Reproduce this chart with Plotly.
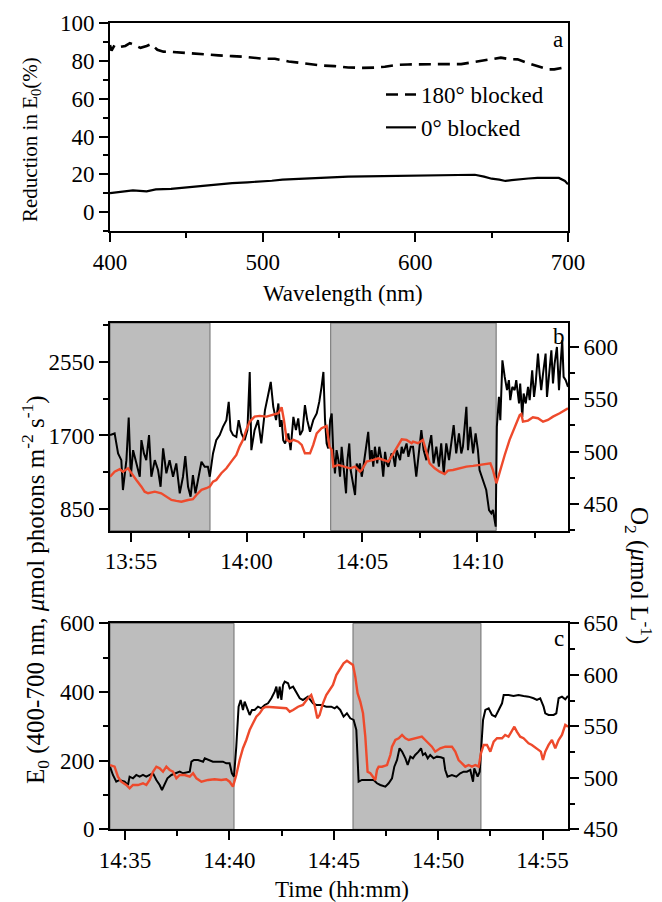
import datetime as dt
import plotly.graph_objects as go

FONT = "Liberation Serif"
RED = "#ee4a2c"
GRAY = "#bdbdbd"

# ---------------- Panel a: reduction in E0 vs wavelength ----------------
wl_180 = [400, 401, 403, 407, 410, 413, 416, 420, 424, 427, 431, 435, 440, 448, 456, 462, 471, 480,
          488, 501, 508, 517, 523, 532, 538, 547, 556, 565, 573, 580, 587, 595, 604, 613, 621, 630,
          639, 645, 652, 656, 661, 667, 674, 680, 687, 691, 696, 700]
red_180 = [88.5, 85.5, 88.5, 87.5, 88.0, 89.5, 88.5, 87.0, 88.0, 89.0, 86.0, 85.0, 84.9, 84.4, 83.7,
           83.2, 83.0, 82.6, 82.3, 81.2, 81.2, 79.8, 79.1, 78.2, 77.7, 77.3, 76.6, 76.4, 76.5, 77.0,
           77.9, 78.2, 78.4, 78.4, 78.4, 78.4, 79.6, 80.5, 81.1, 81.8, 81.1, 80.9, 78.8, 77.3, 75.6,
           75.6, 76.4, 76.4]
wl_0 = [400, 408, 415, 424, 430, 440, 448, 455, 463, 472, 480, 490, 498, 506, 513, 524, 534, 544,
        556, 567, 578, 589, 600, 611, 622, 633, 639, 645, 650, 655, 659, 663, 667, 674, 680, 687,
        694, 698, 700]
red_0 = [10.1, 10.8, 11.5, 11.0, 12.0, 12.3, 12.9, 13.3, 14.2, 14.6, 15.4, 15.8, 16.1, 16.6, 17.2,
         17.7, 18.2, 18.6, 18.8, 18.9, 19.0, 19.1, 19.2, 19.3, 19.4, 19.5, 19.8, 18.8, 17.7, 17.2,
         16.5, 16.9, 17.3, 17.8, 18.1, 18.1, 18.1, 16.5, 14.7]

# ---------------- Panel b: minutes after 13:55 ----------------
b_e0_min = [-0.91, -0.71, -0.56, -0.42, -0.35, -0.20, -0.10, -0.01, 0.09, 0.23, 0.38, 0.45, 0.56,
            0.66, 0.78, 0.88, 1.03, 1.17, 1.28, 1.39, 1.53, 1.67, 1.82, 1.96, 2.11, 2.25, 2.35,
            2.47, 2.58, 2.68, 2.79, 2.90, 3.05, 3.19, 3.33, 3.41, 3.55, 3.69, 3.84, 3.98, 4.13,
            4.23, 4.31, 4.42, 4.56, 4.66, 4.78, 4.92, 5.04, 5.14, 5.21, 5.35, 5.50, 5.64, 5.80,
            5.95, 6.05, 6.16, 6.28, 6.38, 6.45, 6.52, 6.59, 6.67, 6.81, 6.91, 7.03, 7.14, 7.24,
            7.32, 7.43, 7.53, 7.63, 7.75, 7.89, 8.04, 8.15, 8.25, 8.33, 8.40, 8.47, 8.54, 8.62,
            8.69, 8.76, 8.83, 8.90, 8.98, 9.05, 9.12, 9.19, 9.31, 9.37, 9.45, 9.51, 9.60, 9.70,
            9.77, 9.84, 9.91, 9.99, 10.06, 10.17, 10.27, 10.35, 10.42, 10.49, 10.56, 10.66, 10.75,
            10.85, 10.92, 11.00, 11.07, 11.14, 11.28, 11.36, 11.43, 11.50, 11.65, 11.72, 11.79,
            11.93, 12.01, 12.11, 12.21, 12.35, 12.47, 12.57, 12.67, 12.79, 12.90, 13.00, 13.10,
            13.22, 13.33, 13.43, 13.54, 13.65, 13.77, 13.87, 13.97, 14.08, 14.20, 14.30, 14.37,
            14.52, 14.59, 14.69, 14.81, 14.92, 15.02, 15.09, 15.24, 15.38, 15.50, 15.60, 15.67,
            15.74, 15.79, 15.84, 15.93, 15.99, 16.08, 16.18, 16.28, 16.36, 16.42, 16.51, 16.61,
            16.68, 16.80, 16.85, 16.94, 17.00, 17.09, 17.19, 17.26, 17.37, 17.45, 17.52, 17.62,
            17.69, 17.76, 17.84, 17.95, 18.01, 18.10, 18.20, 18.27, 18.34, 18.44, 18.53, 18.59,
            18.67, 18.73, 18.82, 18.92]
b_e0_val = [1704, 1723, 1493, 1416, 1072, 1416, 1907, 1225, 1531, 1378, 1225, 1646, 1493, 1416,
            1704, 1225, 1416, 1302, 1110, 1551, 1264, 1416, 1225, 1378, 1034, 1225, 1462, 1110,
            995, 1244, 1034, 1187, 1397, 1339, 1339, 1225, 1493, 1646, 1704, 1799, 1876, 2086,
            1761, 1704, 1684, 1876, 1723, 1646, 1761, 2431, 1531, 1761, 1876, 1608, 1991, 2183,
            2316, 2029, 1876, 2068, 1799, 1876, 1646, 1608, 1723, 1531, 1914, 1761, 1896, 1704,
            1761, 2048, 1876, 1742, 1876, 1953, 2086, 2259, 2431, 1876, 1608, 1551, 1876, 1953,
            1493, 1264, 1531, 1416, 1225, 1570, 1340, 1034, 1416, 1608, 1302, 1149, 1014, 1378,
            1302, 1378, 1225, 1340, 1570, 1742, 1416, 1531, 1340, 1570, 1378, 1570, 1416, 1225,
            1512, 1378, 1340, 1493, 1454, 1340, 1531, 1416, 1570, 1493, 1608, 1454, 1570, 1570,
            1225, 1493, 1761, 1531, 1416, 1570, 1704, 1378, 1570, 1340, 1608, 1264, 1608, 1416,
            1646, 1819, 1493, 1723, 1493, 1570, 2029, 1531, 1799, 1493, 1723, 1531, 1302, 1187,
            1072, 842, 804, 842, 689, 650, 1799, 2144, 1876, 2565, 2374, 2221, 2336, 2106, 2259,
            2221, 2336, 2068, 2298, 1914, 2183, 2068, 2259, 2106, 2450, 2144, 2298, 2642, 2413,
            2221, 2413, 2642, 2144, 2450, 2680, 2298, 2528, 2718, 2221, 2489, 2795, 2374, 2336,
            2259]

b_o2_min = [-0.91, -0.71, -0.49, -0.35, -0.13, 0.01, 0.23, 0.45, 0.59, 0.74, 1.03, 1.31, 1.53,
            1.75, 1.96, 2.18, 2.47, 2.68, 2.83, 3.05, 3.26, 3.41, 3.55, 3.69, 3.91, 4.13, 4.34,
            4.56, 4.70, 4.85, 4.99, 5.14, 5.35, 5.57, 5.87, 6.16, 6.38, 6.52, 6.62, 6.74, 6.88,
            7.03, 7.24, 7.39, 7.53, 7.75, 7.89, 8.04, 8.25, 8.47, 8.59, 8.69, 8.76, 8.98, 9.19,
            9.48, 9.70, 9.91, 9.99, 10.20, 10.49, 10.71, 10.92, 11.14, 11.36, 11.57, 11.72, 11.93,
            12.15, 12.21, 12.42, 12.64, 12.79, 12.93, 13.15, 13.36, 13.58, 13.72, 13.94, 14.23,
            14.52, 14.81, 15.09, 15.38, 15.56, 15.67, 15.82, 15.93, 16.03, 16.18, 16.39, 16.54,
            16.68, 16.83, 16.90, 16.97, 17.19, 17.40, 17.62, 17.84, 18.05, 18.27, 18.56, 18.77,
            18.92]
b_o2_val = [476.0, 480.8, 483.1, 480.8, 484.0, 479.3, 472.9, 466.5, 461.7, 460.2, 461.7, 460.2,
            457.0, 453.8, 452.9, 452.2, 453.8, 454.5, 458.6, 463.4, 465.0, 466.5, 471.3, 472.9,
            479.3, 484.0, 490.4, 496.7, 504.7, 511.1, 520.6, 528.5, 533.3, 534.0, 533.3, 534.9,
            536.5, 542.2, 530.1, 511.1, 509.4, 511.1, 509.4, 506.3, 498.3, 498.3, 506.3, 517.4,
            522.2, 524.4, 504.7, 501.5, 485.6, 487.2, 485.6, 484.0, 485.6, 480.8, 482.4, 490.4,
            492.0, 493.6, 492.0, 490.4, 498.3, 506.3, 511.7, 511.1, 507.9, 509.4, 507.9, 511.1,
            498.3, 488.8, 484.0, 480.8, 478.6, 481.8, 482.4, 484.0, 485.6, 486.3, 487.2, 487.9,
            488.8, 482.4, 469.7, 477.7, 485.6, 496.7, 511.1, 519.0, 527.0, 534.9, 535.9, 528.5,
            529.5, 532.7, 531.8, 528.5, 530.1, 533.3, 536.5, 539.7, 541.3]

b_dark = [(-0.91, 3.42), (8.645, 15.81)]

# ---------------- Panel c: minutes after 14:35 ----------------
c_e0_min = [-0.72, -0.58, -0.42, -0.26, -0.02, 0.14, 0.22, 0.38, 0.54, 0.70, 0.86, 1.02, 1.18,
            1.34, 1.50, 1.66, 1.77, 1.90, 2.03, 2.22, 2.46, 2.62, 2.78, 2.94, 3.10, 3.18, 3.30,
            3.50, 3.74, 3.82, 3.98, 4.21, 4.45, 4.69, 4.85, 5.01, 5.12, 5.22, 5.33, 5.44, 5.54,
            5.65, 5.73, 5.86, 5.97, 6.08, 6.21, 6.37, 6.53, 6.69, 6.85, 7.01, 7.17, 7.25, 7.33,
            7.41, 7.49, 7.57, 7.65, 7.81, 7.89, 8.05, 8.21, 8.37, 8.52, 8.76, 9.00, 9.16, 9.40,
            9.64, 9.88, 10.04, 10.15, 10.31, 10.47, 10.63, 10.79, 10.95, 11.08, 11.14, 11.19,
            11.35, 11.59, 11.75, 11.91, 12.07, 12.23, 12.47, 12.63, 12.79, 12.90, 13.03, 13.15,
            13.27, 13.43, 13.54, 13.67, 13.79, 13.90, 14.06, 14.18, 14.27, 14.38, 14.50, 14.62,
            14.78, 14.94, 15.13, 15.26, 15.34, 15.45, 15.66, 15.87, 16.06, 16.22, 16.38, 16.54,
            16.67, 16.73, 16.83, 16.89, 16.99, 17.05, 17.15, 17.26, 17.42, 17.58, 17.74, 17.90,
            18.06, 18.14, 18.37, 18.61, 18.85, 19.09, 19.33, 19.57, 19.73, 19.89, 20.05, 20.13,
            20.29, 20.53, 20.66, 20.77, 20.93, 21.09, 21.22]
c_e0_val = [182.4, 158.2, 138.8, 143.7, 138.8, 129.1, 153.3, 148.5, 158.2, 153.3, 158.2, 153.3,
            158.2, 163.1, 143.7, 129.1, 114.5, 134.0, 148.5, 158.2, 163.1, 167.9, 163.1, 165.0,
            167.9, 197.0, 201.9, 201.9, 197.0, 206.8, 201.9, 197.0, 197.0, 197.0, 192.3, 192.3,
            163.1, 153.3, 240.7, 357.2, 376.6, 347.6, 371.8, 352.4, 333.0, 347.6, 347.6, 357.2,
            352.4, 362.1, 367.0, 381.6, 400.9, 415.5, 381.6, 415.5, 376.6, 420.4, 430.1, 425.3,
            410.7, 415.5, 396.2, 381.6, 376.6, 386.4, 367.0, 362.1, 362.1, 357.2, 357.2, 352.4,
            357.2, 347.6, 328.1, 337.9, 323.3, 318.4, 289.3, 201.9, 138.8, 143.7, 143.7, 145.6,
            143.7, 134.0, 129.1, 124.2, 134.0, 148.5, 182.4, 201.9, 236.0, 226.2, 206.8, 187.3,
            211.6, 206.8, 216.5, 226.2, 236.0, 216.5, 221.3, 206.8, 216.5, 206.8, 211.6, 209.7,
            206.8, 172.8, 153.3, 158.2, 153.3, 163.1, 167.9, 167.9, 172.8, 138.8, 177.6, 163.1,
            153.3, 167.9, 221.3, 318.4, 347.6, 352.4, 333.0, 328.1, 347.6, 367.0, 391.3, 391.3,
            388.4, 391.3, 388.4, 386.4, 381.6, 376.6, 381.6, 357.2, 337.9, 333.0, 333.0, 337.9,
            381.6, 386.4, 378.6, 388.4]

c_o2_min = [-0.72, -0.50, -0.34, -0.18, 0.06, 0.22, 0.38, 0.62, 0.86, 1.02, 1.18, 1.34, 1.50,
            1.66, 1.82, 1.98, 2.14, 2.30, 2.46, 2.62, 2.86, 3.10, 3.26, 3.42, 3.66, 3.98, 4.29,
            4.61, 4.85, 5.01, 5.17, 5.33, 5.49, 5.65, 5.81, 5.97, 6.13, 6.29, 6.45, 6.61, 6.77,
            7.01, 7.25, 7.49, 7.73, 7.89, 8.05, 8.29, 8.52, 8.76, 8.92, 9.08, 9.21, 9.32, 9.48,
            9.64, 9.80, 9.96, 10.12, 10.31, 10.47, 10.63, 10.79, 10.92, 11.03, 11.14, 11.27,
            11.40, 11.51, 11.62, 11.75, 11.88, 11.99, 12.07, 12.15, 12.31, 12.55, 12.71, 12.79,
            12.95, 13.11, 13.27, 13.43, 13.59, 13.75, 13.98, 14.22, 14.38, 14.54, 14.70, 14.86,
            15.10, 15.34, 15.66, 15.82, 15.98, 16.14, 16.30, 16.46, 16.62, 16.78, 16.94, 17.05,
            17.18, 17.34, 17.50, 17.66, 17.82, 18.06, 18.21, 18.37, 18.53, 18.65, 18.77, 18.93,
            19.09, 19.33, 19.49, 19.73, 19.92, 20.02, 20.13, 20.29, 20.45, 20.61, 20.77, 20.93,
            21.09, 21.22]
c_o2_val = [512.4, 510.8, 501.1, 496.2, 493.0, 489.8, 493.0, 493.0, 494.7, 493.0, 497.9, 505.9,
            510.8, 509.2, 505.9, 510.8, 507.6, 505.9, 499.5, 502.7, 502.7, 501.1, 504.4, 499.5,
            496.2, 497.9, 498.6, 497.9, 498.6, 496.2, 491.4, 502.7, 517.3, 528.7, 536.7, 546.4,
            552.9, 559.3, 562.6, 567.5, 569.0, 568.5, 568.5, 567.5, 567.5, 564.2, 565.8, 569.0,
            570.7, 577.2, 580.4, 570.7, 557.8, 561.0, 572.3, 580.4, 585.3, 590.1, 599.8, 606.3,
            611.2, 613.7, 611.2, 609.5, 598.2, 582.1, 573.9, 562.6, 539.9, 505.9, 504.4, 501.1,
            497.9, 507.6, 510.8, 510.8, 512.4, 522.1, 530.2, 536.7, 538.4, 541.6, 538.4, 536.7,
            537.4, 538.4, 539.9, 536.7, 533.5, 530.2, 525.4, 528.7, 530.2, 530.2, 525.4, 517.3,
            514.1, 510.8, 512.4, 510.8, 512.4, 510.8, 523.8, 531.9, 531.9, 525.4, 535.1, 538.4,
            538.4, 541.6, 539.9, 544.8, 549.6, 544.8, 539.9, 538.4, 533.5, 531.9, 528.7, 525.4,
            517.3, 525.4, 531.9, 536.7, 528.7, 536.7, 541.6, 551.3, 549.6]

c_dark = [(-0.72, 5.22), (10.92, 17.05)]

# ---------------- helpers ----------------
BASE_B = dt.datetime(2000, 1, 1, 13, 55)
BASE_C = dt.datetime(2000, 1, 1, 14, 35)


def to_time(base, mins):
    return [base + dt.timedelta(minutes=m) for m in mins]


fig = go.Figure()

# Panel a
fig.add_trace(go.Scatter(x=wl_180, y=red_180, mode="lines", name="180° blocked",
                         line=dict(color="black", width=2.6, dash="12px,7px"),
                         xaxis="x", yaxis="y"))
fig.add_trace(go.Scatter(x=wl_0, y=red_0, mode="lines", name="0° blocked",
                         line=dict(color="black", width=2.2),
                         xaxis="x", yaxis="y"))

# Panel b
fig.add_trace(go.Scatter(x=to_time(BASE_B, b_e0_min), y=b_e0_val, mode="lines", showlegend=False,
                         line=dict(color="black", width=2), xaxis="x2", yaxis="y2"))
fig.add_trace(go.Scatter(x=to_time(BASE_B, b_o2_min), y=b_o2_val, mode="lines", showlegend=False,
                         line=dict(color=RED, width=2.4), xaxis="x2", yaxis="y3"))

# Panel c
fig.add_trace(go.Scatter(x=to_time(BASE_C, c_e0_min), y=c_e0_val, mode="lines", showlegend=False,
                         line=dict(color="black", width=2), xaxis="x3", yaxis="y4"))
fig.add_trace(go.Scatter(x=to_time(BASE_C, c_o2_min), y=c_o2_val, mode="lines", showlegend=False,
                         line=dict(color=RED, width=2.4), xaxis="x3", yaxis="y5"))

shapes = []
for (a, b) in b_dark:
    shapes.append(dict(type="rect", xref="x2", yref="y2 domain",
                       x0=BASE_B + dt.timedelta(minutes=a), x1=BASE_B + dt.timedelta(minutes=b),
                       y0=0, y1=1, fillcolor=GRAY, line=dict(color="#6e6e6e", width=1),
                       layer="below"))
for (a, b) in c_dark:
    shapes.append(dict(type="rect", xref="x3", yref="y4 domain",
                       x0=BASE_C + dt.timedelta(minutes=a), x1=BASE_C + dt.timedelta(minutes=b),
                       y0=0, y1=1, fillcolor=GRAY, line=dict(color="#6e6e6e", width=1),
                       layer="below"))

W, H = 662, 902
XD = [110 / W, 568 / W]
DA = [1 - 231 / H, 1 - 23.3 / H]
DB = [1 - 530.7 / H, 1 - 323 / H]
DC = [1 - 829.3 / H, 1 - 623.3 / H]

TF = dict(family=FONT, size=23, color="black")


def ax(**kw):
    base = dict(showline=True, linecolor="black", linewidth=2, ticks="outside", ticklen=9,
                tickwidth=2, tickcolor="black", showgrid=False, zeroline=False, tickfont=TF,
                automargin=False)
    base.update(kw)
    return base


def minor(d):
    return dict(ticks="outside", ticklen=5, tickwidth=2, tickcolor="black", dtick=d, showgrid=False)


fig.update_layout(
    width=W, height=H, template="none",
    margin=dict(l=0, r=0, t=0, b=0),
    paper_bgcolor="white", plot_bgcolor="white",
    font=dict(family=FONT, size=23, color="black"),
    shapes=shapes,
    showlegend=True,
    legend=dict(x=381 / W, y=1 - 73 / H, xanchor="left", yanchor="top",
                bgcolor="rgba(0,0,0,0)", font=dict(family=FONT, size=23),
                itemwidth=30, tracegroupgap=0),
    xaxis=ax(domain=XD, anchor="y", range=[400, 700], dtick=100, mirror=True, minor=minor(50)),
    yaxis=ax(domain=DA, anchor="x", range=[-10, 100], dtick=20, mirror=True, minor=minor(10)),
    xaxis2=ax(domain=XD, anchor="y2", type="date",
              range=[BASE_B + dt.timedelta(minutes=-0.91), BASE_B + dt.timedelta(minutes=18.92)],
              tick0=BASE_B, dtick=300000, tickformat="%H:%M", mirror=True, minor=minor(150000)),
    yaxis2=ax(domain=DB, anchor="x2", range=[604, 2994], tick0=0, dtick=850, minor=minor(425)),
    yaxis3=ax(domain=DB, anchor="x2", overlaying="y2", side="right", range=[424.5, 622.6],
              tick0=0, dtick=50, minor=minor(25)),
    xaxis3=ax(domain=XD, anchor="y4", type="date",
              range=[BASE_C + dt.timedelta(minutes=-0.72), BASE_C + dt.timedelta(minutes=21.22)],
              tick0=BASE_C, dtick=300000, tickformat="%H:%M", mirror=True, minor=minor(150000)),
    yaxis4=ax(domain=DC, anchor="x3", range=[0, 600], dtick=200, minor=minor(100)),
    yaxis5=ax(domain=DC, anchor="x3", overlaying="y4", side="right", range=[450, 650],
              tick0=0, dtick=50, minor=minor(25)),
)

annots = [
    dict(text="Wavelength (nm)", x=343 / W, y=1 - 293 / H, size=23),
    dict(text="Reduction in E<sub>0</sub>(%)", x=31 / W, y=1 - 140 / H, textangle=-90, size=21),
    dict(text="Time (hh:mm)", x=342 / W, y=1 - 889 / H, size=23),
    dict(text="E<sub>0</sub> (400-700 nm, <i>μ</i>mol photons m<sup>-2</sup> s<sup>-1</sup>)",
         x=35 / W, y=1 - 590 / H, textangle=-90, size=25),
    dict(text="O<sub>2</sub> (<i>μ</i>mol L<sup>-1</sup>)", x=639 / W, y=1 - 575 / H, textangle=90,
         size=25),
    dict(text="a", x=558 / W, y=1 - 40 / H, size=23),
    dict(text="b", x=559 / W, y=1 - 337 / H, size=23),
    dict(text="c", x=559 / W, y=1 - 638 / H, size=23),
]
for a in annots:
    s = a.pop("size")
    a.update(xref="paper", yref="paper", showarrow=False, xanchor="center", yanchor="middle",
             font=dict(family=FONT, size=s, color="black"))
fig.update_layout(annotations=annots)

fig.write_html("out.html", config={"displayModeBar": False},
               post_script="document.body.style.margin='0px';")
